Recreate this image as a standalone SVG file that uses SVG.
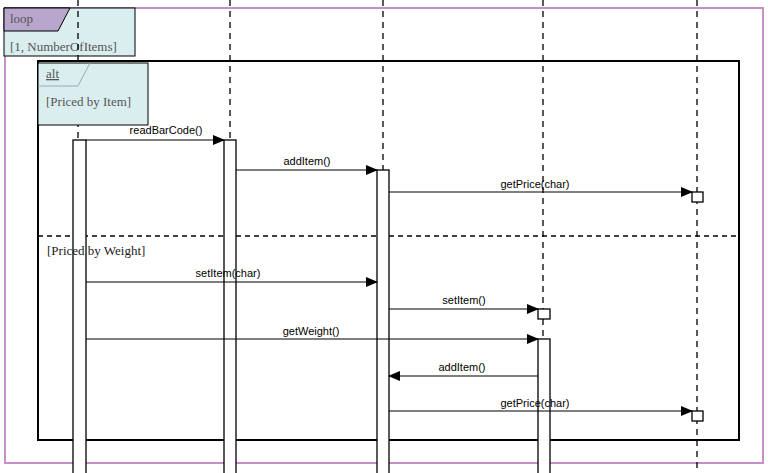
<svg xmlns="http://www.w3.org/2000/svg" width="768" height="473" viewBox="0 0 768 473">
<style>
.ll{stroke:#000;stroke-width:1.3;stroke-dasharray:6,5}
.act{fill:#fff;stroke:#000;stroke-width:1.3}
.msg{stroke:#000;stroke-width:1.2;fill:none;marker-end:url(#ah)}
.lbl{font-family:"Liberation Sans",Arial,sans-serif;font-size:11px;fill:#000;text-anchor:middle}
.fr{font-family:"Liberation Serif","Times New Roman",serif;font-size:13px;fill:#555}
.dk{fill:#222}
</style>
<defs><marker id="ah" markerWidth="12" markerHeight="10" refX="11" refY="5" orient="auto" markerUnits="userSpaceOnUse"><path d="M0,0 L12,5 L0,10 Z" fill="#000"/></marker></defs>
<rect width="768" height="473" fill="#fff"/>
<g id="loop-frame">
<rect x="5" y="8" width="758" height="455" fill="none" stroke="#c58fc8" stroke-width="2"/>
<rect x="4" y="8" width="131" height="48" fill="#daeef0" stroke="#000" stroke-width="1"/>
<path d="M4,8 H70 L58,31 H4 Z" fill="#b9a6cc" stroke="#000" stroke-width="1"/>
<text class="fr" x="10" y="23">loop</text>
<text class="fr" x="10" y="51">[1, NumberOfItems]</text>
</g>
<g id="lifelines">
<line class="ll" x1="78" y1="0" x2="78" y2="473"/>
<line class="ll" x1="230" y1="0" x2="230" y2="473"/>
<line class="ll" x1="383" y1="0" x2="383" y2="473"/>
<line class="ll" x1="543" y1="0" x2="543" y2="473"/>
<line class="ll" x1="697" y1="0" x2="697" y2="473"/>
</g>
<g id="alt-frame">
<rect x="38" y="61" width="701" height="379" fill="none" stroke="#000" stroke-width="2"/>
<rect x="38" y="63" width="110" height="62" fill="#daeef0" stroke="#000" stroke-width="1"/>
<path d="M38,86 H78 L90,63" fill="none" stroke="#9ab" stroke-width="1"/>
<text class="fr" x="46" y="78" text-decoration="underline">alt</text>
<text class="fr" x="46" y="106">[Priced by Item]</text>
<line x1="38" y1="236" x2="739" y2="236" stroke="#000" stroke-width="1.3" stroke-dasharray="5,4"/>
</g>
<g id="activations">
<rect class="act" x="73" y="140" width="13" height="340"/>
<rect class="act" x="224" y="140" width="12" height="340"/>
<rect class="act" x="377" y="170" width="12" height="310"/>
<rect class="act" x="538" y="339" width="12" height="141"/>
<rect class="act" x="692" y="192" width="11" height="10"/>
<rect class="act" x="538" y="309" width="12" height="10"/>
<rect class="act" x="692" y="411" width="11" height="10"/>
</g>
<g id="guard2">
<text class="fr dk" x="47" y="255">[Priced by Weight]</text>
</g>
<g id="connectors">
<line class="msg" x1="86" y1="140" x2="224" y2="140"/>
<line class="msg" x1="236" y1="170" x2="377" y2="170"/>
<line class="msg" x1="389" y1="192" x2="692" y2="192"/>
<line class="msg" x1="86" y1="282" x2="377" y2="282"/>
<line class="msg" x1="389" y1="309" x2="538" y2="309"/>
<line class="msg" x1="86" y1="339" x2="538" y2="339"/>
<line class="msg" x1="538" y1="376" x2="389" y2="376"/>
<line class="msg" x1="389" y1="411" x2="692" y2="411"/>
</g>
<g id="labels">
<text class="lbl" x="166" y="134">readBarCode()</text>
<text class="lbl" x="307" y="165">addItem()</text>
<text class="lbl" x="535" y="188">getPrice(char)</text>
<text class="lbl" x="228" y="277">setItem(char)</text>
<text class="lbl" x="464" y="304">setItem()</text>
<text class="lbl" x="311" y="335">getWeight()</text>
<text class="lbl" x="462" y="371">addItem()</text>
<text class="lbl" x="535" y="407">getPrice(char)</text>
</g>
</svg>
